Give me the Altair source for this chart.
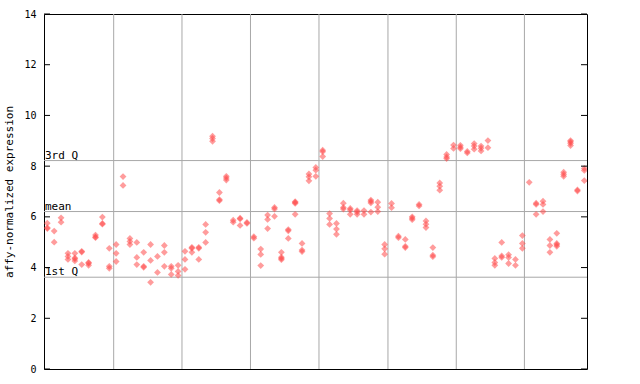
import altair as alt
import pandas as pd

# values per sample slot, grouped by the 8 vertical panels
g1 = [[5.75, 5.57, 5.54], [5.44, 5.00], [5.96, 5.79], [4.56, 4.44, 4.32],
      [4.56, 4.38, 4.34, 4.26], [4.64, 4.61, 4.12], [4.20, 4.17, 4.09],
      [5.28, 5.21, 5.18], [5.99, 5.74, 5.71], [4.76, 4.05, 3.97]]
g2 = [[4.91, 4.56, 4.24], [7.59, 7.24], [5.15, 5.03, 4.91], [4.99, 4.40, 4.12],
      [4.60, 4.05, 4.01], [4.91, 4.28, 3.42], [4.44, 3.81], [4.87, 4.60, 4.05],
      [4.05, 3.97, 3.73], [4.09, 3.85, 3.69]]
g3 = [[4.64, 4.32, 3.93], [4.80, 4.76, 4.60], [4.80, 4.76, 4.32],
      [5.70, 5.39, 4.99], [9.18, 9.09, 8.98], [6.96, 6.68, 6.64],
      [7.60, 7.53, 7.45], [5.87, 5.79], [5.95, 5.92, 5.66], [5.78, 5.74]]
g4 = [[5.22, 5.16], [4.73, 4.52, 4.08], [6.07, 5.90, 5.54], [6.37, 6.31, 6.02],
      [4.60, 4.41, 4.36, 4.31], [5.50, 5.45, 5.15], [6.60, 6.57, 6.53, 6.10],
      [4.95, 4.69, 4.63], [7.69, 7.58, 7.42], [7.95, 7.84, 7.60]]
g5 = [[8.63, 8.57, 8.38], [6.13, 5.94, 5.70], [5.74, 5.52, 5.31],
      [6.54, 6.37, 6.31], [6.33, 6.27, 6.10], [6.25, 6.19, 6.10], [6.25, 6.10],
      [6.66, 6.61, 6.55, 6.19], [6.58, 6.38, 6.21], [4.91, 4.74, 4.53]]
g6 = [[6.53, 6.36], [5.24, 5.18], [5.11, 4.84, 4.79], [6.00, 5.95, 5.89],
      [6.49, 6.43], [5.84, 5.71, 5.58], [4.79, 4.49, 4.43], [7.34, 7.21, 7.05],
      [8.46, 8.36, 8.30], [8.83, 8.70]]
g7 = [[8.82, 8.75, 8.69], [8.58, 8.52], [8.89, 8.79, 8.67], [8.79, 8.71, 8.60],
      [9.01, 8.73], [4.36, 4.20, 4.09], [4.99, 4.46, 4.40], [4.51, 4.40, 4.16],
      [4.32, 4.09], [5.26, 4.95, 4.76]]
g8 = [[7.36], [6.54, 6.49, 6.10], [6.62, 6.49, 6.21], [5.11, 4.87, 4.60],
      [5.35, 4.95, 4.90, 4.84], [7.76, 7.68, 7.60], [9.01, 8.96, 8.90, 8.81],
      [7.06, 7.02], [7.91, 7.83, 7.43]]

group_boundaries = [9.64, 19.56, 29.51, 39.46, 49.48, 59.4, 69.3]
stat_names = ["3rd Q", "mean", "1st Q"]
stat_values = [8.22, 6.21, 3.62]
y_ticks = [0, 2, 4, 6, 8, 10, 12, 14]

rows = []
slot = 0
for g in [g1, g2, g3, g4, g5, g6, g7, g8]:
    for vals in g:
        for v in vals:
            rows.append({"slot": slot, "value": v})
        slot += 1
pts = pd.DataFrame(rows)
grid_df = pd.DataFrame({"slot": group_boundaries})
stat_df = pd.DataFrame({"name": stat_names, "value": stat_values})
tick_df = pd.DataFrame({"value": y_ticks})

W, H = 543, 355
MONO = "DejaVu Sans Mono"
xs = alt.Scale(domain=[-0.48, 78.39], nice=False, zero=False)
ys = alt.Scale(domain=[0, 14], nice=False)

yaxis = alt.Axis(values=y_ticks, ticks=False, grid=False, domain=False,
                 labelFont=MONO, labelFontSize=10, labelColor="black",
                 labelPadding=8, title="affy-normalized expression",
                 titleFont=MONO, titleFontSize=11, titleFontWeight="normal",
                 titleColor="black", titlePadding=9)

vgrid = alt.Chart(grid_df).mark_rule(color="#a8a8a8", strokeWidth=1).encode(
    x=alt.X("slot:Q", scale=xs, axis=None))

hlines = alt.Chart(stat_df).mark_rule(color="#a8a8a8", strokeWidth=1).encode(
    y=alt.Y("value:Q", scale=ys, axis=yaxis))

labels = alt.Chart(stat_df).mark_text(
    align="left", baseline="bottom", font=MONO, fontSize=11, color="black", dy=0
).encode(x=alt.value(1), y=alt.Y("value:Q", scale=ys), text="name:N")

points = alt.Chart(pts).mark_point(
    shape="diamond", filled=True, size=46, color="#ff4a4a", opacity=0.55,
    strokeWidth=0, clip=True
).encode(x=alt.X("slot:Q", scale=xs, axis=None),
         y=alt.Y("value:Q", scale=ys))

lticks = alt.Chart(tick_df).mark_rule(color="black").encode(
    y=alt.Y("value:Q", scale=ys), x=alt.value(0), x2=alt.value(6))
rticks = alt.Chart(tick_df).mark_rule(color="black").encode(
    y=alt.Y("value:Q", scale=ys), x=alt.value(W - 6), x2=alt.value(W))

chart = alt.layer(vgrid, hlines, labels, points, lticks, rticks).properties(
    width=W, height=H, autosize="none",
    padding={"left": 44, "top": 14, "right": 640 - 44 - W, "bottom": 384 - 14 - H},
    background="white",
).configure_view(stroke="black", strokeWidth=1)

chart.save("out.html", embed_options={"renderer": "svg", "actions": False})
